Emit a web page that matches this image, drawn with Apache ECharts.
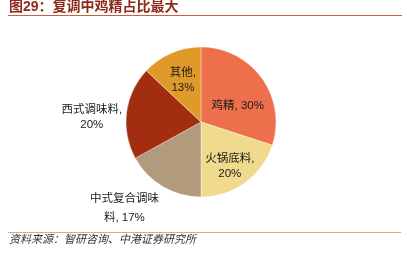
<!DOCTYPE html>
<html>
<head>
<meta charset="utf-8">
<script src="https://cdn.jsdelivr.net/npm/echarts@6/dist/echarts.min.js"></script>
<style>
  html, body { margin: 0; padding: 0; background: #fff; }
  #chart { width: 407px; height: 264px; }
</style>
</head>
<body>
<div id="chart"></div>
<script>
// Compound seasoning market share by segment (%)
const categories = ['鸡精', '火锅底料', '中式复合调味料', '西式调味料', '其他'];
const shares = [30, 20, 17, 20, 13];

const titleText = '图29：复调中鸡精占比最大';
const sourceText = '资料来源：智研咨询、中港证券研究所';

// slice colours, label line breaks and label nudges per slice
const sliceColors = ['#EE6F4C', '#F0DA8E', '#B19B7C', '#A32D10', '#E09A2A'];
const labelSep = [', ', ',\n', ', ', ',\n', ',\n'];
const labelShift = [[4, 8], [5, 12], [-56, 51], [-69, 0], [-2, -5]];

const FONT = "'Liberation Sans', 'Noto Sans CJK SC', sans-serif";

const chart = echarts.init(document.getElementById('chart'), null, { renderer: 'canvas' });

const data = categories.map((name, i) => {
  const item = { name: name, value: shares[i], itemStyle: { color: sliceColors[i] } };
  if (i === 2) {
    item.label = { width: 70, overflow: 'break', lineHeight: 19 };
  }
  return item;
});

chart.setOption({
  animation: false,
  title: {
    text: titleText,
    left: 9,
    top: 0,
    padding: 0,
    textStyle: { fontFamily: FONT, fontSize: 14, fontWeight: 'bold', color: '#8E2A1C' }
  },
  graphic: [
    { type: 'line', shape: { x1: 8, y1: 15.5, x2: 402, y2: 15.5 },
      style: { stroke: '#C8623E', lineWidth: 1 } },
    { type: 'line', shape: { x1: 8, y1: 232.5, x2: 401, y2: 232.5 },
      style: { stroke: '#E4A48C', lineWidth: 1 } },
    { type: 'text', left: 9, top: 234,
      style: { text: sourceText, font: 'italic 11px ' + FONT, fill: '#333' } }
  ],
  series: [{
    type: 'pie',
    center: [201, 122],
    radius: [0, 75],
    startAngle: 90,
    clockwise: true,
    data: data,
    itemStyle: { borderColor: 'rgba(255,255,255,0.6)', borderWidth: 0.6 },
    label: {
      position: 'inside',
      fontFamily: FONT,
      fontSize: 11.5,
      lineHeight: 15,
      color: '#1a1a1a',
      align: 'center',
      formatter: p => p.name + labelSep[p.dataIndex] + p.value + '%'
    },
    labelLine: { show: false },
    labelLayout: p => ({ dx: labelShift[p.dataIndex][0], dy: labelShift[p.dataIndex][1] }),
    emphasis: { disabled: true }
  }]
});
</script>
</body>
</html>
